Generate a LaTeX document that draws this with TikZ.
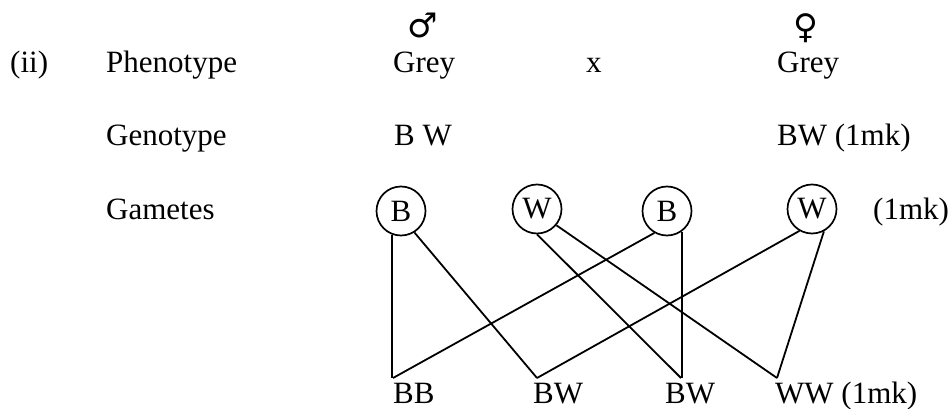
\documentclass[tikz,border=0pt]{standalone}
\usepackage{fontspec}
\setmainfont{Liberation Serif}
\newfontfamily\symfont{DejaVu Sans}
\begin{document}
\begin{tikzpicture}[x=1pt,y=-1pt,
  txt/.style={anchor=base west,inner sep=0pt,font=\fontsize{31}{36}\selectfont},
  sym/.style={inner sep=0pt,font=\symfont\fontsize{34}{38}\selectfont},
  gamete/.style={circle,draw,line width=1.7pt,minimum size=49pt,inner sep=0pt,
    font=\fontsize{31}{36}\selectfont},
  link/.style={line width=1.8pt}]
\useasboundingbox (0,0) rectangle (952,409);

% row labels
\node[txt] (ii) at (10,73) {(ii)};
\node[txt] (phen) at (106,73) {Phenotype};
\node[txt] (gen) at (106,145) {Genotype};
\node[txt] (gam) at (106,219) {Gametes};

% parents
\node[sym] (male) at (423,25) {♂};
\node[sym] (female) at (806,28) {♀};
\node[txt] (greym) at (393,73) {Grey};
\node[txt] (cross) at (586,73) {x};
\node[txt] (greyf) at (777,73) {Grey};
\node[txt] (genm) at (394,145) {B W};
\node[txt] (genf) at (777,145) {BW (1mk)};

% gametes
\node[gamete] (b1) at (401,211) {B};
\node[gamete] (w1) at (537,209) {W};
\node[gamete] (b2) at (667,211) {B};
\node[gamete] (w2) at (812,209) {W};
\node[txt] (gammk) at (873,219) {(1mk)};

% offspring: line ends sit on the top-left of each label
\coordinate (v1) at (393,378);
\coordinate (v2) at (537,378);
\coordinate (v3) at (681,378);
\coordinate (v4) at (777,378);
\node[txt] (bb) at (393,403) {BB};
\node[txt] (bw1) at (533,403) {BW};
\node[txt] (bw2) at (665,403) {BW};
\node[txt] (ww) at (775,403) {WW (1mk)};

% fertilisation lines
\draw[link] (b1.250) -- (b1.250 |- v1);
\draw[link] (b1.302) -- (v2);
\draw[link] (b2.240) -- (v1);
\draw[link] (b2.306) -- (b2.306 |- v3);
\draw[link] (w1.270) -- (v3);
\draw[link] (w1.320) -- (v4);
\draw[link] (w2.240) -- (v2);
\draw[link] (w2.298) -- (v4);
\end{tikzpicture}
\end{document}
